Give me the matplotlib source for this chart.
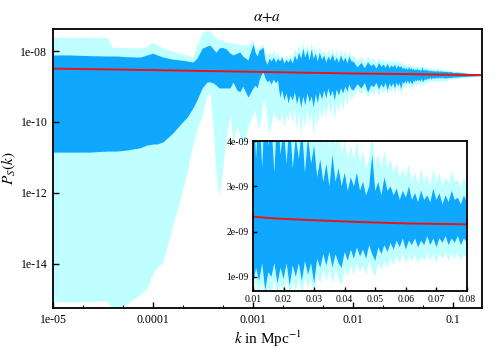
import matplotlib.pyplot as plt
import matplotlib.ticker as mticker
import numpy as np

plt.rcParams['font.family'] = ['Liberation Serif', 'DejaVu Serif']
plt.rcParams['mathtext.fontset'] = 'stix'

LIGHT = '#c0ffff'
DARK = '#10a8ff'

# large scales: k and log10 P_S of the band edges
k_low = [1e-5, 1.5e-5, 2.3e-5, 3.5e-5, 3.9e-5, 4.4e-5, 5.5e-5, 7.4e-5, 8.7e-5, 1e-4,
         1.1e-4, 1.26e-4, 1.58e-4, 1.86e-4, 2.2e-4, 2.5e-4, 2.75e-4, 3.1e-4, 3.47e-4, 3.7e-4,
         4e-4, 4.27e-4, 4.57e-4, 4.9e-4, 5.4e-4, 5.9e-4, 6.3e-4, 6.9e-4, 7.4e-4, 7.9e-4,
         8.9e-4, 1e-3,
         1.05e-3, 1.1e-3, 1.15e-3, 1.2e-3, 1.26e-3, 1.32e-3, 1.38e-3, 1.45e-3, 1.52e-3, 1.6e-3,
         1.68e-3, 1.76e-3, 1.85e-3, 1.94e-3, 2.04e-3, 2.14e-3, 2.24e-3, 2.35e-3, 2.47e-3, 2.6e-3,
         2.72e-3, 2.86e-3, 3.0e-3, 3.15e-3, 3.3e-3, 3.47e-3, 3.64e-3, 3.82e-3, 4.0e-3, 4.2e-3,
         4.4e-3, 4.6e-3, 4.85e-3, 5.1e-3, 5.35e-3, 5.6e-3, 5.9e-3, 6.2e-3, 6.5e-3, 6.8e-3,
         7.15e-3, 7.5e-3, 7.9e-3, 8.3e-3, 8.7e-3, 9.1e-3, 9.55e-3]

log_dark_hi = [-8.11, -8.11, -8.13, -8.14, -8.14, -8.14, -8.16, -8.17, -8.11, -8.06,
               -8.11, -8.17, -8.23, -8.25, -8.28, -8.31, -8.20, -7.92, -7.86, -7.83,
               -7.94, -8.03, -7.92, -7.89, -7.94, -8.06, -8.11, -8.06, -8.03, -8.14,
               -8.25, -7.80,
               -8.03, -8.14, -7.97, -7.94, -7.89, -8.25, -8.37, -8.20, -8.28, -8.17,
               -8.31, -8.20, -8.28, -8.17, -8.34, -8.23, -8.31, -8.20, -8.34, -8.11,
               -8.25, -8.03, -8.20, -7.92, -8.17, -7.97, -8.25, -7.94, -8.20, -8.06,
               -8.28, -8.03, -8.23, -8.11, -8.31, -8.14, -8.25, -8.08, -8.28, -8.17,
               -8.31, -8.11, -8.28, -8.17, -8.34, -8.14, -8.28]

log_dark_lo = [-10.85, -10.85, -10.85, -10.82, -10.82, -10.82, -10.79, -10.73, -10.65, -10.62,
               -10.62, -10.56, -10.31, -10.08, -9.86, -9.61, -9.38, -9.04, -8.87, -8.87,
               -8.90, -8.96, -9.04, -9.04, -9.04, -9.04, -8.87, -9.10, -9.15, -8.99,
               -9.30, -9.04,
               -8.96, -9.04, -8.82, -8.68, -8.59, -8.76, -8.87, -8.82, -8.93, -8.79,
               -8.90, -8.82, -9.30, -9.10, -9.38, -9.18, -9.46, -9.24, -9.38, -9.15,
               -9.49, -9.24, -9.58, -9.27, -9.52, -9.18, -9.44, -9.27, -9.58, -9.21,
               -9.46, -9.15, -9.35, -9.10, -9.32, -9.04, -9.27, -9.10, -9.38, -9.07,
               -9.24, -9.04, -9.18, -8.99, -9.13, -8.93, -9.07]

log_light_hi = [-7.61, -7.61, -7.61, -7.62, -7.89, -7.89, -7.90, -7.92, -7.86, -7.75,
                -7.83, -7.92, -8.00, -8.06, -8.11, -8.17, -7.83, -7.49, -7.41, -7.44,
                -7.55, -7.63, -7.66, -7.69, -7.75, -7.77, -7.77, -7.80, -7.80, -7.83,
                -7.83, -7.69,
                -7.86, -7.97, -7.86, -7.86, -7.80, -8.03, -8.14, -8.00, -8.11, -7.97,
                -8.14, -8.03, -8.20, -8.08, -8.25, -8.11, -8.20, -8.06, -8.17, -7.92,
                -8.06, -7.83, -8.03, -7.75, -7.97, -7.80, -8.06, -7.77, -8.00, -7.86,
                -8.11, -7.89, -8.06, -7.97, -8.14, -7.94, -8.11, -7.92, -8.14, -7.97,
                -8.17, -7.94, -8.14, -7.97, -8.17, -8.00, -8.14]

log_light_lo = [-15.07, -15.07, -15.07, -15.04, -15.27, -15.25, -15.13, -14.87, -14.70, -14.25,
                -14.11, -13.94, -12.90, -12.20, -11.41, -10.65, -10.23, -9.80, -9.24, -9.18,
                -10.23, -11.49, -12.11, -11.49, -10.37, -9.80, -10.59, -10.14, -10.42, -10.70,
                -10.14, -9.80,
                -9.66, -10.03, -10.23, -9.80, -9.44, -9.38, -9.94, -10.31, -10.08, -9.66,
                -9.89, -9.89, -10.00, -9.75, -10.14, -9.80, -9.94, -9.66, -10.08, -9.61,
                -10.23, -9.72, -10.37, -9.80, -10.17, -9.66, -10.06, -9.75, -10.42, -9.72,
                -10.11, -9.61, -9.94, -9.52, -9.89, -9.44, -9.80, -9.38, -9.94, -9.49,
                -9.72, -9.32, -9.66, -9.24, -9.52, -9.15, -9.38]

# small scales, in units of 1e-9
k_high = [0.010, 0.011, 0.012, 0.013, 0.014, 0.015, 0.016, 0.017, 0.018, 0.019,
          0.020, 0.021, 0.022, 0.023, 0.024, 0.025, 0.026, 0.027, 0.028, 0.029,
          0.030, 0.031, 0.032, 0.033, 0.034, 0.035, 0.036, 0.037, 0.038, 0.039,
          0.040, 0.041, 0.042, 0.043, 0.044, 0.045, 0.046, 0.047, 0.048, 0.049,
          0.050, 0.051, 0.052, 0.053, 0.054, 0.055, 0.056, 0.057, 0.058, 0.059,
          0.060, 0.061, 0.062, 0.063, 0.064, 0.065, 0.066, 0.067, 0.068, 0.069,
          0.070, 0.071, 0.072, 0.073, 0.074, 0.075, 0.076, 0.077, 0.078, 0.079,
          0.080,
          0.085, 0.09, 0.095, 0.1, 0.11, 0.12, 0.13, 0.14, 0.15, 0.16,
          0.17, 0.18, 0.19, 0.2]

dark_hi = [5.2, 3.6, 4.8, 3.4, 5.0, 3.9, 4.4, 3.3, 4.8, 3.7, 4.3, 3.5, 4.5, 3.4, 4.1, 3.6,
           4.3, 3.3, 4.1, 3.5, 3.9,
           3.2, 3.6, 3.1, 3.5, 3.0, 3.7, 3.1, 3.4, 3.0, 3.3, 2.9, 3.2, 3.0, 3.3, 2.9,
           3.1, 2.8, 3.0, 3.7, 2.9, 3.1, 2.8, 3.2, 2.9, 3.0, 2.8,
           2.95, 2.7, 2.9, 2.75, 3.0, 2.7, 2.85, 2.65, 2.9, 2.7, 2.8, 2.65, 2.95, 2.7,
           2.85, 2.6, 2.8, 2.65, 2.9, 2.7, 2.75, 2.6, 2.8, 2.65,
           2.7, 2.6, 2.65, 2.5, 2.55, 2.45, 2.4, 2.35, 2.3, 2.3, 2.25, 2.2, 2.2, 2.15]

light_hi = [7.5, 5.5, 7.0, 5.0, 6.8, 5.6, 6.2, 4.8, 6.5, 5.2, 6.0, 4.9, 6.0, 4.7, 5.5, 5.0,
            5.6, 4.6, 5.3, 4.8, 5.0,
            4.2, 4.6, 3.9, 4.4, 3.8, 4.5, 3.9, 4.2, 3.7, 4.0, 3.6, 3.9, 3.6, 4.0, 3.5,
            3.8, 3.4, 3.6, 4.2, 3.5, 3.7, 3.4, 3.8, 3.4, 3.6, 3.3,
            3.5, 3.2, 3.4, 3.2, 3.5, 3.1, 3.3, 3.05, 3.4, 3.1, 3.25, 3.0, 3.4, 3.1,
            3.3, 3.0, 3.2, 3.05, 3.35, 3.1, 3.15, 2.95, 3.2, 3.0,
            3.0, 2.85, 2.9, 2.7, 2.75, 2.6, 2.55, 2.45, 2.4, 2.4, 2.3, 2.28, 2.25, 2.2]

dark_lo = [0.8, 1.2, 0.9, 1.3, 0.7, 1.1, 1.0, 1.3, 0.85, 1.2, 0.95, 1.3, 0.8, 1.25, 1.0, 1.3,
           0.9, 1.35, 1.05, 1.3, 0.85,
           1.4, 1.2, 1.5, 1.25, 1.55, 1.2, 1.5, 1.3, 1.2, 1.55, 1.35, 1.6, 1.4, 1.65, 1.45,
           1.6, 1.4, 1.7, 1.5, 1.35, 1.65, 1.5, 1.7, 1.55, 1.75, 1.6,
           1.8, 1.65, 1.85, 1.6, 1.8, 1.7, 1.85, 1.65, 1.8, 1.7, 1.9, 1.7, 1.85, 1.65,
           1.85, 1.75, 1.9, 1.7, 1.85, 1.75, 1.9, 1.7, 1.85, 1.75,
           1.75, 1.8, 1.8, 1.85, 1.85, 1.9, 1.92, 1.95, 1.97, 1.98, 2.0, 2.02, 2.03, 2.05]

light_lo = [0.55, 0.85, 0.6, 0.9, 0.5, 0.75, 0.6, 0.95, 0.55, 0.85, 0.65, 0.95, 0.6, 0.9, 0.7,
            0.95, 0.6, 1.0, 0.75, 0.95, 0.6,
            1.05, 0.85, 1.15, 0.9, 1.2, 0.85, 1.15, 0.95, 0.8, 1.2, 1.0, 1.25, 1.05, 1.3, 1.1,
            1.25, 1.05, 1.35, 1.15, 1.0, 1.3, 1.15, 1.35, 1.2, 1.4, 1.25,
            1.45, 1.3, 1.5, 1.3, 1.45, 1.35, 1.5, 1.3, 1.45, 1.35, 1.55, 1.35, 1.5, 1.3,
            1.5, 1.4, 1.55, 1.35, 1.5, 1.4, 1.55, 1.35, 1.5, 1.4,
            1.45, 1.55, 1.55, 1.65, 1.7, 1.75, 1.8, 1.85, 1.9, 1.92, 1.95, 1.97, 1.98, 2.0]

# fiducial spectrum (red line), units of 1e-9
k_fid = [1e-5, 1e-4, 1e-3, 0.01, 0.015, 0.02, 0.03, 0.045, 0.06, 0.08, 0.2]
p_fid = [3.2, 2.9, 2.6, 2.33, 2.3, 2.28, 2.25, 2.21, 2.18, 2.16, 2.1]

k = np.array(k_low + k_high)
d_hi = np.concatenate([10.0 ** np.array(log_dark_hi), np.array(dark_hi) * 1e-9])
d_lo = np.concatenate([10.0 ** np.array(log_dark_lo), np.array(dark_lo) * 1e-9])
l_hi = np.concatenate([10.0 ** np.array(log_light_hi), np.array(light_hi) * 1e-9])
l_lo = np.concatenate([10.0 ** np.array(log_light_lo), np.array(light_lo) * 1e-9])
kf = np.array(k_fid)
pf = np.array(p_fid) * 1e-9


def draw_bands(ax):
    ax.fill_between(k, l_lo, l_hi, color=LIGHT, lw=0)
    ax.fill_between(k, d_lo, d_hi, color=DARK, lw=0)
    ax.plot(kf, pf, color='#ee1111', lw=1.4)


fig = plt.figure(figsize=(5, 3.5), dpi=100)
ax = fig.add_axes([0.106, 0.12, 0.858, 0.797])
draw_bands(ax)
ax.set_xscale('log')
ax.set_yscale('log')
ax.set_xlim(1e-5, 0.195)
ax.set_ylim(5.7e-16, 4.17e-8)
ax.set_xticks([1e-5, 1e-4, 1e-3, 1e-2, 1e-1])
ax.set_xticklabels(['1e-05', '0.0001', '0.001', '0.01', '0.1'])
ax.xaxis.set_minor_locator(mticker.LogLocator(base=10, subs=[2.0, 5.0]))
ax.xaxis.set_minor_formatter(mticker.NullFormatter())
ax.set_yticks([1e-14, 1e-12, 1e-10, 1e-8])
ax.set_yticklabels(['1e-14', '1e-12', '1e-10', '1e-08'])
ax.yaxis.set_minor_locator(mticker.NullLocator())
ax.tick_params(direction='in', labelsize=8.5, length=4, width=1, pad=4)
ax.tick_params(which='minor', direction='in', length=2.5, width=0.8)
for s in ax.spines.values():
    s.set_linewidth(1.3)
ax.set_title(r'$\alpha{+}a$', fontsize=11, pad=6)
ax.set_xlabel(r'$k$ in Mpc$^{-1}$', fontsize=11, labelpad=2)
ax.set_ylabel(r'$P_S(k)$', fontsize=11, labelpad=2)

ins = fig.add_axes([0.506, 0.169, 0.428, 0.428])
ins.set_facecolor('white')
draw_bands(ins)
ins.set_xlim(0.01, 0.08)
ins.set_ylim(0.69e-9, 4e-9)
ins.set_xticks([0.01, 0.02, 0.03, 0.04, 0.05, 0.06, 0.07, 0.08])
ins.set_xticklabels(['0.01', '0.02', '0.03', '0.04', '0.05', '0.06', '0.07', '0.08'])
ins.set_yticks([1e-9, 2e-9, 3e-9, 4e-9])
ins.set_yticklabels(['1e-09', '2e-09', '3e-09', '4e-09'])
ins.tick_params(direction='in', labelsize=7, length=3, width=1, pad=3)
for s in ins.spines.values():
    s.set_linewidth(1.3)

fig.savefig('out.png', dpi=100)
